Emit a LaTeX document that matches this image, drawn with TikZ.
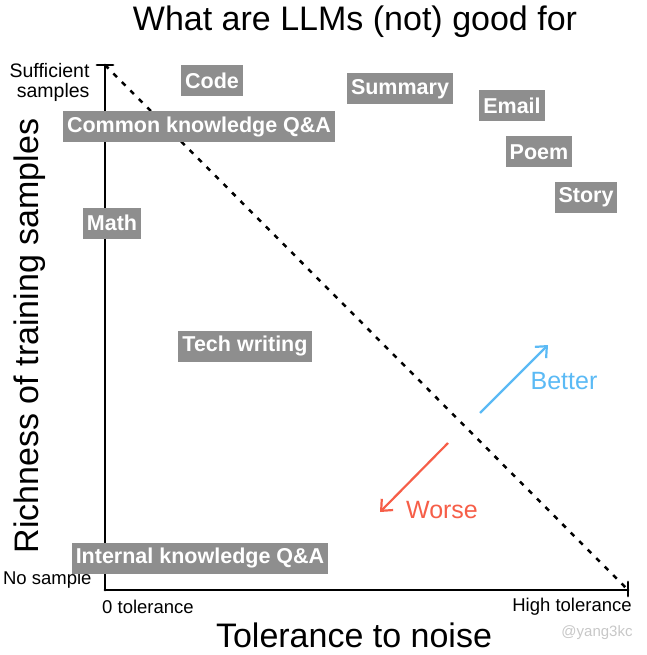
\documentclass[tikz,border=0pt]{standalone}
\usepackage{fontspec}
\setmainfont{Liberation Sans}
\usetikzlibrary{arrows.meta}

\definecolor{boxgray}{HTML}{8E8E8E}
\definecolor{betterblue}{HTML}{5BBAF5}
\definecolor{worsered}{HTML}{F65E48}

\begin{document}
\begin{tikzpicture}[x=1pt, y=-1pt,
axis/.style={black, line width=2.8pt, line cap=round},
box/.style={fill=boxgray, text=white, font=\fontsize{21.5}{21.5}\selectfont\bfseries,
  inner xsep=4pt, minimum height=31pt, inner ysep=0pt},
tick/.style={font=\fontsize{18.5}{20}\selectfont},
trend/.style={line width=2.2pt, -{Straight Barb[length=9pt, width=16pt, line width=2.2pt]}}]

\useasboundingbox (0,0) rectangle (646,655);

% MAIN AXES
\coordinate (top) at (105,65);
\coordinate (origin) at (105,590);
\coordinate (right) at (628,590);

\draw[axis] (origin) -- (top);
\draw[axis] (97,65) -- (113,65);
\draw[axis] (origin) -- (right);
\draw[axis] (628,582) -- (628,596);
\draw[line width=2.5pt, dash pattern=on 5pt off 7pt] (top) -- (right);

% TITLE AND AXIS LABELS
\node[font=\fontsize{34}{36}\selectfont] (title) at (355,22) {What are LLMs (not) good for};
\node[font=\fontsize{34}{36}\selectfont] (xlabel) at (354,635) {Tolerance to noise};
\node[font=\fontsize{34}{36}\selectfont, rotate=90] (ylabel) at (30,336) {Richness of training samples};

\node[tick, anchor=east, align=right, font=\fontsize{19.5}{20}\selectfont] (suff) at (93,82) {Sufficient\\samples};
\node[tick, anchor=east] (nosample) at (95,580) {No sample};
\node[tick] (zero) at (148,607) {0 tolerance};
\node[tick] (high) at (572,607) {High tolerance};
\node[font=\fontsize{15}{15}\selectfont, text=black!22] (tag) at (597,633) {@yang3kc};

% TASK BOXES
\node[box] (code) at (212,81) {Code};
\node[box] (summary) at (400,89) {Summary};
\node[box] (email) at (512,106) {Email};
\node[box] (poem) at (539,152) {Poem};
\node[box] (story) at (586,197) {Story};
\node[box] (common) at (199,127) {Common knowledge Q\&A};
\node[box] (math) at (112,223) {Math};
\node[box] (tech) at (245,346) {Tech writing};
\node[box] (internal) at (200,558) {Internal knowledge Q\&A};

% BETTER / WORSE
\coordinate (b0) at (480,413);
\coordinate (b1) at (548,345);
\draw[trend, betterblue] (b0) -- (b1);
\node[font=\fontsize{25}{25}\selectfont, text=betterblue] (better) at (564,381) {Better};

\coordinate (w0) at (448,443);
\coordinate (w1) at (380,512);
\draw[trend, worsered] (w0) -- (w1);
\node[font=\fontsize{25}{25}\selectfont, text=worsered] (worse) at (442,510) {Worse};

\end{tikzpicture}
\end{document}
